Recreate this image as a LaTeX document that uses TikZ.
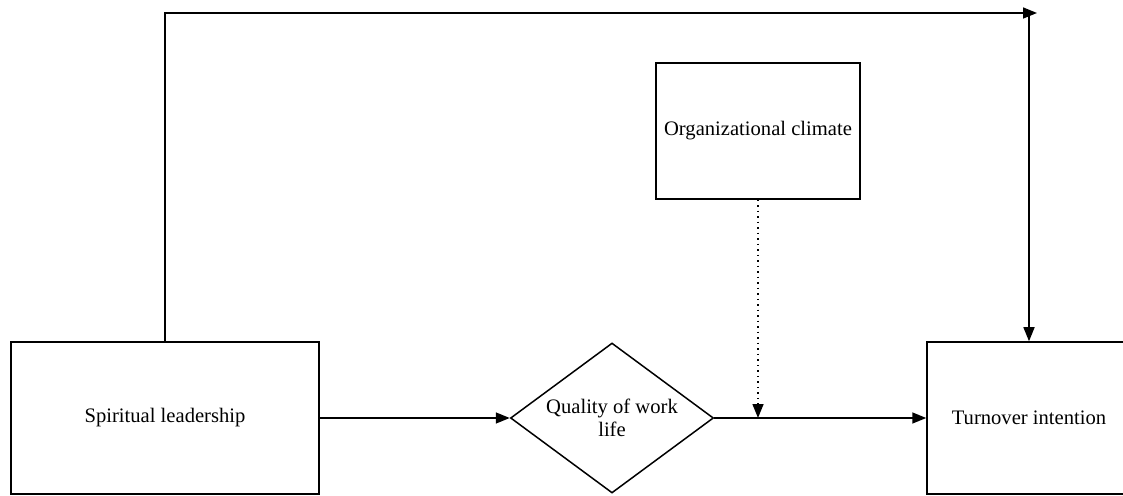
\documentclass[tikz,border=0pt]{standalone}
\usepackage{fontspec}
\setmainfont{Liberation Serif}
\usetikzlibrary{arrows.meta,shapes.geometric,positioning}

\begin{document}
\begin{tikzpicture}[
    x=0.5pt, y=-0.5pt,
    box/.style={draw, line width=0.75pt, align=center, font=\fontsize{10.3}{11.5}\selectfont, inner sep=0pt},
    arr/.style={-{Triangle[length=7pt, width=5.5pt]}, line width=0.75pt}
]
\useasboundingbox (0,0) rectangle (1123,496);
\node[box, minimum width=154pt, minimum height=76pt] (sl) at (165,418) {Spiritual leadership};
\node[box, shape=diamond, aspect=1.35, minimum width=101.5pt, minimum height=75pt] (qwl) at (612,418) {Quality of work\\life};
\node[box, minimum width=102pt, minimum height=76pt] (ti) at (1029,418) {Turnover intention};
\node[box, minimum width=102pt, minimum height=68pt] (oc) at (758,131) {Organizational climate};
\coordinate (corner) at (165,13);
\coordinate (topend) at (1037,13);
\coordinate (drop) at (1029,13);
\coordinate (mod) at (758,418);

\draw[arr] (sl) -- (qwl);
\draw[arr] (qwl) -- (ti);
\draw[arr] (sl.north) -- (corner) -- (topend);
\draw[arr] (drop) -- (ti.north);
\draw[arr, dotted] (oc.south) -- (mod);
\end{tikzpicture}
\end{document}
